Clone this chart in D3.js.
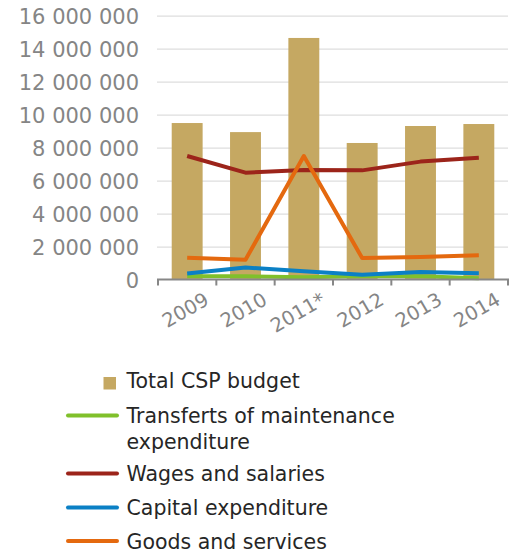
<!DOCTYPE html>
<html>
<head>
<meta charset="utf-8">
<script src="https://cdn.jsdelivr.net/npm/d3@7"></script>
<style>
  body { margin: 0; background: #fff; }
  svg { display: block; font-family: "DejaVu Sans", Verdana, sans-serif; }
</style>
</head>
<body>
<svg id="chart" width="517" height="552"></svg>
<script>
// values (in units)
years = ["2009", "2010", "2011*", "2012", "2013", "2014"];
totalBudget = [9490000, 8940000, 14650000, 8280000, 9310000, 9430000];
transfers = [200000, 190000, 130000, 190000, 200000, 80000];
wages = [7490000, 6480000, 6640000, 6620000, 7150000, 7390000];
capital = [360000, 730000, 500000, 290000, 450000, 380000];
goods = [1320000, 1200000, 7490000, 1300000, 1360000, 1470000];
yTicks = [0, 2e6, 4e6, 6e6, 8e6, 10e6, 12e6, 14e6, 16e6];

let series = [
    {name: "Transferts of maintenance expenditure", values: transfers, color: "#80c02b"},
    {name: "Wages and salaries", values: wages, color: "#9c241a"},
    {name: "Capital expenditure", values: capital, color: "#0b80c5"},
    {name: "Goods and services", values: goods, color: "#e4690f"}
];
let barColor = "#c5a862";
let font = "'DejaVu Sans', Verdana, sans-serif";

let svg = d3.select("#chart");
let plot = {left: 158, right: 508, top: 15.7, bottom: 279.5};

let fmt = d3.formatLocale({decimal: ",", thousands: " ", grouping: [3], currency: ["", ""]}).format(",");

let x = d3.scaleBand()
    .domain(years)
    .range([plot.left, plot.right])
    .paddingInner(0.47)
    .paddingOuter(0.235);

let y = d3.scaleLinear()
    .domain([0, 16e6])
    .range([plot.bottom, plot.top]);

// gridlines
let grid = svg.append("g")
    .attr("transform", "translate(" + (plot.left - 1) + ",0)")
    .call(d3.axisRight(y).tickValues(yTicks.slice(1)).tickSize(plot.right - plot.left + 1).tickFormat(""));
grid.select(".domain").remove();
grid.selectAll("line").attr("stroke", "#dedede").attr("stroke-width", 1.3);

// y labels
let yAxis = svg.append("g")
    .attr("transform", "translate(139,0)")
    .call(d3.axisLeft(y).tickValues(yTicks).tickSize(0).tickPadding(0).tickFormat(fmt))
    .attr("font-family", font)
    .attr("font-size", 21);
yAxis.select(".domain").remove();
yAxis.selectAll("text")
    .attr("fill", "#858585")
    .attr("dy", "0.36em");

// bars
svg.append("g").selectAll("rect")
    .data(years)
    .enter().append("rect")
    .attr("x", function(d) { return x(d); })
    .attr("y", function(d, i) { return y(totalBudget[i]); })
    .attr("width", x.bandwidth())
    .attr("height", function(d, i) { return y(0) - y(totalBudget[i]); })
    .attr("fill", barColor);

// lines
let line = d3.line()
    .x(function(d, i) { return x(years[i]) + x.bandwidth() / 2; })
    .y(function(d) { return y(d); });

svg.append("g").selectAll("path")
    .data(series)
    .enter().append("path")
    .attr("d", function(d) { return line(d.values); })
    .attr("fill", "none")
    .attr("stroke", function(d) { return d.color; })
    .attr("stroke-width", 4)
    .attr("stroke-linejoin", "round");

// x axis
let bounds = d3.range(years.length + 1).map(function(i) { return plot.left + i * x.step(); });
let xAxis = svg.append("g");
xAxis.append("line")
    .attr("x1", plot.left - 1).attr("x2", plot.right + 1)
    .attr("y1", plot.bottom).attr("y2", plot.bottom)
    .attr("stroke", "#878787").attr("stroke-width", 2);
xAxis.selectAll(".tick")
    .data(bounds)
    .enter().append("line")
    .attr("x1", function(d) { return d; }).attr("x2", function(d) { return d; })
    .attr("y1", plot.bottom).attr("y2", plot.bottom + 6)
    .attr("stroke", "#878787").attr("stroke-width", 2);
xAxis.selectAll("text")
    .data(years)
    .enter().append("text")
    .attr("transform", function(d) {
        return "translate(" + (x(d) + x.bandwidth() / 2 + 23) + "," + (plot.bottom + 24) + ") rotate(-30)";
    })
    .attr("text-anchor", "end")
    .attr("fill", "#858585")
    .style("font-size", "19.5px")
    .text(function(d) { return d; });

// legend
let legend = svg.append("g").style("font-size", "20.5px").attr("fill", "#262626");
legend.append("rect")
    .attr("x", 103.5).attr("y", 377).attr("width", 12.5).attr("height", 12.5)
    .attr("fill", barColor);
legend.append("text").attr("x", 126.5).attr("y", 387.5).text("Total CSP budget");

let legendRows = [
    {lines: ["Transferts of maintenance", "expenditure"], y: 423},
    {lines: ["Wages and salaries"], y: 481},
    {lines: ["Capital expenditure"], y: 515},
    {lines: ["Goods and services"], y: 548.5}
];
legendRows.forEach(function(row, i) {
    legend.append("line")
        .attr("x1", 68).attr("x2", 117)
        .attr("y1", row.y - 7.5).attr("y2", row.y - 7.5)
        .attr("stroke", series[i].color)
        .attr("stroke-width", 4)
        .attr("stroke-linecap", "round");
    let t = legend.append("text").attr("x", 126.5).attr("y", row.y);
    row.lines.forEach(function(l, j) {
        t.append("tspan").attr("x", 126.5).attr("dy", j == 0 ? 0 : 25.5).text(l);
    });
});
</script>
</body>
</html>
